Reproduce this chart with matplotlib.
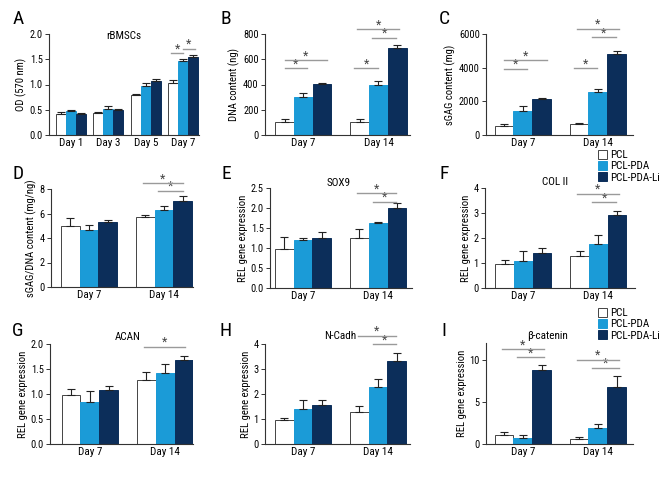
import matplotlib
matplotlib.use("Agg")
import matplotlib.pyplot as plt
from matplotlib import font_manager
from matplotlib.patches import Patch
import numpy as np

names = {f.name for f in font_manager.fontManager.ttflist}
_cands = ['Liberation Sans Narrow', 'Roboto Condensed', 'Arial Narrow', 'Open Sans Condensed',
          'DejaVu Sans Condensed', 'Roboto']
_chosen = [c for c in _cands if c in names]
plt.rcParams['font.family'] = ([_chosen[0]] if _chosen else []) + ['DejaVu Sans']

# ---------------- data ----------------
series = ['PCL', 'PCL-PDA', 'PCL-PDA-Li']
days4 = ['Day 1', 'Day 3', 'Day 5', 'Day 7']
days2 = ['Day 7', 'Day 14']

A_pcl = [0.42, 0.44, 0.79, 1.03]; A_pcl_err = [0.03, 0.02, 0.03, 0.05]
A_pda = [0.47, 0.52, 0.97, 1.46]; A_pda_err = [0.02, 0.06, 0.05, 0.05]
A_li = [0.42, 0.50, 1.07, 1.54];  A_li_err = [0.01, 0.01, 0.04, 0.05]

B_pcl = [105, 105]; B_pcl_err = [20, 20]
B_pda = [302, 399]; B_pda_err = [29, 27]
B_li = [405, 690];  B_li_err = [8, 22]

C_pcl = [536, 636];   C_pcl_err = [120, 60]
C_pda = [1431, 2525]; C_pda_err = [300, 200]
C_li = [2127, 4831];  C_li_err = [60, 140]

D_pcl = [4.98, 5.69]; D_pcl_err = [0.62, 0.19]
D_pda = [4.65, 6.29]; D_pda_err = [0.38, 0.32]
D_li = [5.30, 7.00];  D_li_err = [0.20, 0.43]

E_pcl = [0.97, 1.24]; E_pcl_err = [0.30, 0.23]
E_pda = [1.19, 1.62]; E_pda_err = [0.07, 0.02]
E_li = [1.25, 1.99];  E_li_err = [0.14, 0.13]

F_pcl = [0.96, 1.27]; F_pcl_err = [0.15, 0.20]
F_pda = [1.08, 1.76]; F_pda_err = [0.39, 0.35]
F_li = [1.40, 2.93];  F_li_err = [0.20, 0.16]

G_pcl = [0.98, 1.28]; G_pcl_err = [0.12, 0.16]
G_pda = [0.84, 1.42]; G_pda_err = [0.22, 0.19]
G_li = [1.08, 1.69];  G_li_err = [0.09, 0.08]

H_pcl = [0.97, 1.29]; H_pcl_err = [0.09, 0.22]
H_pda = [1.41, 2.27]; H_pda_err = [0.34, 0.32]
H_li = [1.58, 3.31];  H_li_err = [0.17, 0.34]

I_pcl = [1.06, 0.59]; I_pcl_err = [0.31, 0.19]
I_pda = [0.75, 1.96]; I_pda_err = [0.31, 0.39]
I_li = [8.82, 6.78];  I_li_err = [0.59, 1.34]

# significance brackets: (x_start, x_end, y)
A_sig = [(2.67, 3.00, 1.62), (2.99, 3.30, 1.71)]
B_sig = [(-0.25, 0.05, 529), (-0.25, 0.31, 593), (0.68, 0.99, 529), (0.92, 1.23, 770), (0.72, 1.27, 836)]
C_sig = [(-0.25, 0.05, 3936), (-0.25, 0.32, 4433), (0.68, 0.99, 3976), (0.92, 1.24, 5805), (0.72, 1.28, 6302)]
D_sig = [(0.72, 1.25, 8.47), (0.92, 1.25, 7.84)]
E_sig = [(0.72, 1.24, 2.37), (0.93, 1.24, 2.16)]
F_sig = [(0.72, 1.27, 3.76), (0.92, 1.24, 3.43)]
G_sig = [(0.72, 1.27, 1.95)]
H_sig = [(0.73, 1.24, 4.32), (0.93, 1.24, 3.99)]
I_sig = [(-0.28, 0.28, 11.25), (-0.08, 0.28, 10.31), (0.72, 1.28, 10.0), (0.92, 1.28, 9.06)]

# ---------------- style ----------------
COLORS = ['#ffffff', '#1b9bd7', '#0c2e5a']
EDGE = '#444444'
W, H = 670, 480
FS = 8

fig = plt.figure(figsize=(6.7, 4.8), dpi=100)


def make_ax(l, t, r, b):
    return fig.add_axes([l / W, 1 - b / H, (r - l) / W, (b - t) / H])


def panel(box, cats, vals, errs, ylim, yticks, ylabel, xlim, bw, sig,
          title=None, tpos=None, yfmt=None):
    ax = make_ax(*box)
    x = np.arange(len(cats))
    for i, (v, e) in enumerate(zip(vals, errs)):
        xs = x + (i - 1) * bw
        ax.bar(xs, v, width=bw, color=COLORS[i],
               edgecolor=EDGE if i == 0 else COLORS[i], linewidth=0.7, zorder=2)
        ax.errorbar(xs, v, yerr=[np.zeros(len(v)), e], fmt='none', ecolor='#222222',
                    elinewidth=0.8, capsize=2.6, capthick=0.8, zorder=3)
    ax.set_xlim(*xlim)
    ax.set_ylim(*ylim)
    ax.set_yticks(yticks)
    if yfmt:
        ax.set_yticklabels([yfmt.format(t) for t in yticks])
    ax.set_xticks(x)
    ax.set_xticklabels(cats, fontsize=FS)
    ax.tick_params(axis='x', length=0, pad=2)
    ax.tick_params(axis='y', length=3, width=0.7, labelsize=FS - 0.5, pad=1.5, color='#333333')
    for s in ['top', 'right']:
        ax.spines[s].set_visible(False)
    for s in ['left', 'bottom']:
        ax.spines[s].set_linewidth(0.8)
        ax.spines[s].set_color('#333333')
    ax.set_ylabel(ylabel, fontsize=FS - 0.3, labelpad=2)
    for (x1, x2, y) in sig:
        ax.plot([x1, x2], [y, y], color='#9a9a9a', lw=1.0, clip_on=False, zorder=4)
        ax.annotate('*', xy=((x1 + x2) / 2, y), xytext=(0, -1.5), textcoords='offset points',
                    ha='center', va='bottom', fontsize=9, color='#444444',
                    annotation_clip=False)
    if title:
        ax.text(tpos[0], tpos[1], title, transform=ax.transAxes, ha='center',
                va='center', fontsize=FS)
    return ax


panel((49, 34, 199, 135), days4, [A_pcl, A_pda, A_li], [A_pcl_err, A_pda_err, A_li_err],
      (0, 2.0), [0, 0.5, 1.0, 1.5, 2.0], 'OD (570 nm)', (-0.59, 3.42), 0.267, A_sig,
      'rBMSCs', (0.5, 0.98), '{:.1f}')
panel((265, 34, 410, 135), days2, [B_pcl, B_pda, B_li], [B_pcl_err, B_pda_err, B_li_err],
      (0, 800), [0, 200, 400, 600, 800], 'DNA content (ng)', (-0.51, 1.42), 0.25, B_sig)
panel((486, 34, 633, 135), days2, [C_pcl, C_pda, C_li], [C_pcl_err, C_pda_err, C_li_err],
      (0, 6000), [0, 2000, 4000, 6000], 'sGAG content (mg)', (-0.49, 1.47), 0.25, C_sig)
panel((51, 189, 193, 287), days2, [D_pcl, D_pda, D_li], [D_pcl_err, D_pda_err, D_li_err],
      (0, 8), [0, 2, 4, 6, 8], 'sGAG/DNA content (mg/ng)', (-0.51, 1.39), 0.25, D_sig)
panel((270, 188, 412, 288), days2, [E_pcl, E_pda, E_li], [E_pcl_err, E_pda_err, E_li_err],
      (0, 2.5), [0, 0.5, 1.0, 1.5, 2.0, 2.5], 'REL gene expression', (-0.44, 1.45), 0.25, E_sig,
      'SOX9', (0.48, 1.05), '{:.1f}')
panel((485, 188, 635, 288), days2, [F_pcl, F_pda, F_li], [F_pcl_err, F_pda_err, F_li_err],
      (0, 4), [0, 1, 2, 3, 4], 'REL gene expression', (-0.51, 1.49), 0.25, F_sig,
      'COL II', (0.47, 1.06))
panel((50, 344, 193, 444), days2, [G_pcl, G_pda, G_li], [G_pcl_err, G_pda_err, G_li_err],
      (0, 2.0), [0, 0.5, 1.0, 1.5, 2.0], 'REL gene expression', (-0.53, 1.37), 0.25, G_sig,
      'ACAN', (0.54, 1.07), '{:.1f}')
panel((265, 344, 410, 444), days2, [H_pcl, H_pda, H_li], [H_pcl_err, H_pda_err, H_li_err],
      (0, 4), [0, 1, 2, 3, 4], 'REL gene expression', (-0.51, 1.43), 0.25, H_sig,
      'N-Cadh', (0.52, 1.08))
panel((486, 343, 633, 444), days2, [I_pcl, I_pda, I_li], [I_pcl_err, I_pda_err, I_li_err],
      (0, 12), [0, 5, 10], 'REL gene expression', (-0.49, 1.47), 0.25, I_sig,
      'β-catenin', (0.42, 1.07))

# panel letters
for lab, (px, py) in zip('ABCDEFGHI', [(18, 19), (226, 19), (444, 19),
                                        (18, 174), (226, 174), (444, 174),
                                        (18, 331), (226, 331), (444, 331)]):
    fig.text(px / W, 1 - py / H, lab, fontsize=14, ha='center', va='center')

# legends
handles = [Patch(facecolor=c, edgecolor=EDGE if i == 0 else c, linewidth=0.7)
           for i, c in enumerate(COLORS)]
for ytop in (150, 308):
    fig.legend(handles, series, loc='upper left', bbox_to_anchor=(598 / W, 1 - ytop / H),
               frameon=False, fontsize=FS, handlelength=0.8, handleheight=0.8,
               handletextpad=0.3, labelspacing=0.1, borderpad=0, borderaxespad=0)

fig.savefig('out.png', dpi=100)
